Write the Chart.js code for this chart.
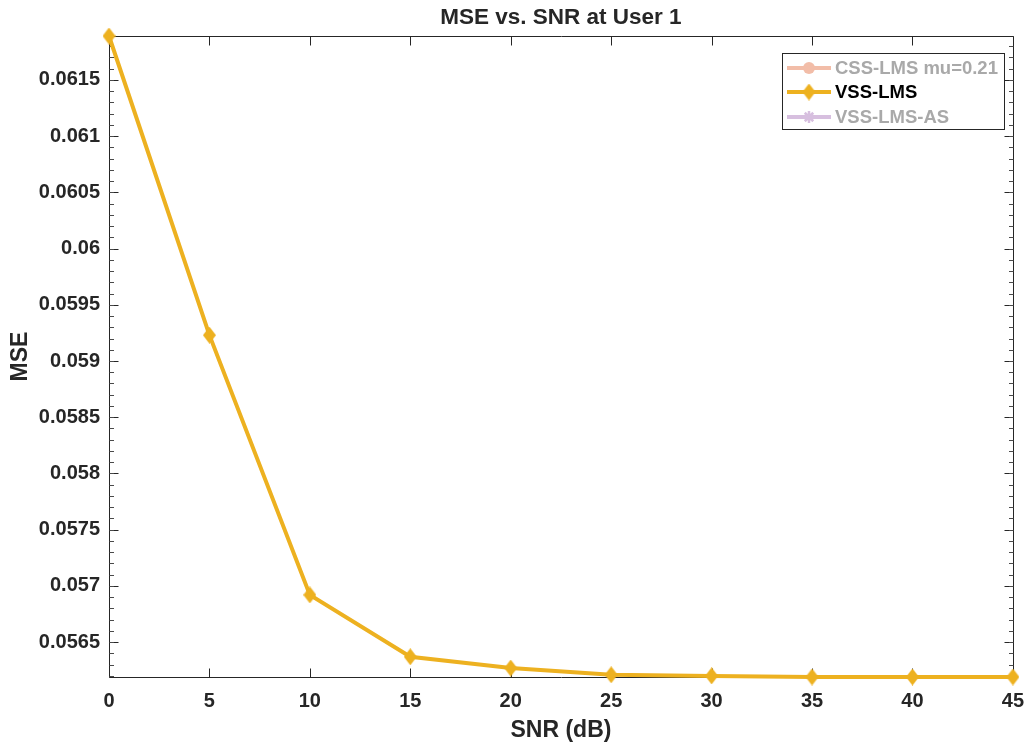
<!DOCTYPE html>
<html>
<head>
<meta charset="utf-8">
<script src="https://cdn.jsdelivr.net/npm/chart.js@4.4.0/dist/chart.umd.min.js"></script>
<style>
  html, body { margin: 0; padding: 0; background: #ffffff; }
  canvas { display: block; }
</style>
</head>
<body>
<canvas id="chart" width="1036" height="747"></canvas>
<script>
// SNR sweep (dB) and the measured MSE of the variable step-size LMS at user 1
const snrDb = [0, 5, 10, 15, 20, 25, 30, 35, 40, 45];
const mseVssLms = [0.06189, 0.05923, 0.05692, 0.05637, 0.05627, 0.05621, 0.05620, 0.05619, 0.05619, 0.05619];

// Axis tick positions and their printed labels
const xTicks = [0, 5, 10, 15, 20, 25, 30, 35, 40, 45];
const yTicks = [0.0565, 0.057, 0.0575, 0.058, 0.0585, 0.059, 0.0595, 0.06, 0.0605, 0.061, 0.0615];
const yTickLabels = ['0.0565', '0.057', '0.0575', '0.058', '0.0585', '0.059', '0.0595', '0.06', '0.0605', '0.061', '0.0615'];

// Legend entries (the two other algorithms are switched off in this view)
const legendNames = ['CSS-LMS mu=0.21', 'VSS-LMS', 'VSS-LMS-AS'];

const FONT = "'Liberation Sans', Arial, Helvetica, sans-serif";
const INK = '#262626';
const GOLD = '#EDB120';

// Tall diamond marker, like the MATLAB 'd' marker
function diamondMarker(w, h, color) {
  const c = document.createElement('canvas');
  c.width = w; c.height = h;
  const g = c.getContext('2d');
  g.fillStyle = color;
  g.beginPath();
  g.moveTo(w / 2, 0);
  g.lineTo(w, h / 2);
  g.lineTo(w / 2, h);
  g.lineTo(0, h / 2);
  g.closePath();
  g.fill();
  return c;
}
const diamond = diamondMarker(13, 17, GOLD);

// Minor y ticks every 0.0001 inside the axis range
function minorTicks(lo, hi, step) {
  const out = [];
  const start = Math.ceil(lo / step - 1e-9);
  const end = Math.floor(hi / step + 1e-9);
  for (let k = start; k <= end; k++) out.push(k * step);
  return out;
}

// Box axes with inward tick marks on all four sides
const axesBox = {
  id: 'axesBox',
  beforeDatasetsDraw(chart) {
    const { ctx, chartArea: a, scales: { x, y } } = chart;
    const L = Math.round(a.left) + 0.5, R = Math.round(a.right) + 0.5;
    const T = Math.round(a.top) + 0.5, B = Math.round(a.bottom) + 0.5;
    ctx.save();
    ctx.strokeStyle = INK;
    ctx.lineWidth = 1;
    ctx.beginPath();
    ctx.moveTo(L, T); ctx.lineTo(R, T); ctx.lineTo(R, B); ctx.lineTo(L, B); ctx.closePath();
    // x major ticks
    xTicks.forEach(v => {
      const px = Math.round(x.getPixelForValue(v)) + 0.5;
      ctx.moveTo(px, B); ctx.lineTo(px, B - 9);
      ctx.moveTo(px, T); ctx.lineTo(px, T + 9);
    });
    // y major ticks
    yTicks.forEach(v => {
      const py = Math.round(y.getPixelForValue(v)) + 0.5;
      ctx.moveTo(L, py); ctx.lineTo(L + 9, py);
      ctx.moveTo(R, py); ctx.lineTo(R - 9, py);
    });
    ctx.stroke();
    // y minor ticks
    ctx.beginPath();
    ctx.strokeStyle = '#4a4a4a';
    minorTicks(y.min, y.max, 0.0001).forEach(v => {
      const py = Math.round(y.getPixelForValue(v)) + 0.5;
      ctx.moveTo(L, py); ctx.lineTo(L + 4.5, py);
      ctx.moveTo(R, py); ctx.lineTo(R - 4.5, py);
    });
    ctx.stroke();
    ctx.restore();
  },
  afterDraw(chart) {
    const { ctx, chartArea: a } = chart;
    ctx.save();
    // Title centred over the axes
    ctx.fillStyle = INK;
    ctx.font = `bold 22.5px ${FONT}`;
    ctx.textAlign = 'center';
    ctx.textBaseline = 'middle';
    ctx.fillText('MSE vs. SNR at User 1', (a.left + a.right) / 2, 18);

    // Legend box
    const bx = 782.5, by = 53.5, bw = 222, bh = 76;
    ctx.fillStyle = '#ffffff';
    ctx.fillRect(bx, by, bw, bh);
    ctx.strokeStyle = INK;
    ctx.lineWidth = 1;
    ctx.strokeRect(bx, by, bw, bh);

    const rows = [68, 92, 117];
    const styles = [
      { line: '#F2BDA8', text: '#A9A9A9', marker: 'circle' },
      { line: GOLD, text: '#000000', marker: 'diamond' },
      { line: '#D7BFDF', text: '#A9A9A9', marker: 'star' }
    ];
    const x0 = 787, x1 = 831, xm = 809;
    legendNames.forEach((name, i) => {
      const yy = rows[i], st = styles[i];
      ctx.strokeStyle = st.line;
      ctx.lineWidth = 4;
      ctx.beginPath();
      ctx.moveTo(x0, yy); ctx.lineTo(x1, yy);
      ctx.stroke();
      ctx.fillStyle = st.line;
      if (st.marker === 'circle') {
        ctx.beginPath();
        ctx.arc(xm, yy, 6, 0, Math.PI * 2);
        ctx.fill();
      } else if (st.marker === 'diamond') {
        ctx.drawImage(diamond, xm - 6.5, yy - 8.5);
      } else {
        ctx.lineWidth = 2.5;
        ctx.beginPath();
        for (let k = 0; k < 4; k++) {
          const ang = k * Math.PI / 4;
          ctx.moveTo(xm - 6 * Math.cos(ang), yy - 6 * Math.sin(ang));
          ctx.lineTo(xm + 6 * Math.cos(ang), yy + 6 * Math.sin(ang));
        }
        ctx.stroke();
      }
      ctx.fillStyle = st.text;
      ctx.font = `bold 18.5px ${FONT}`;
      ctx.textAlign = 'left';
      ctx.textBaseline = 'middle';
      ctx.fillText(name, 835, yy + 1);
    });
    ctx.restore();
  }
};

const yMin = Math.min(...mseVssLms);
const yMax = Math.max(...mseVssLms);

new Chart(document.getElementById('chart'), {
  type: 'line',
  data: {
    datasets: [{
      label: legendNames[1],
      data: snrDb.map((s, i) => ({ x: s, y: mseVssLms[i] })),
      borderColor: GOLD,
      backgroundColor: GOLD,
      borderWidth: 4,
      pointStyle: diamond,
      pointRadius: 8,
      tension: 0,
      clip: false
    }]
  },
  options: {
    responsive: false,
    animation: false,
    devicePixelRatio: 1,
    layout: { padding: { top: 36, right: 16, left: 0, bottom: 0 } },
    plugins: {
      legend: { display: false },
      title: { display: false },
      tooltip: { enabled: false }
    },
    scales: {
      x: {
        type: 'linear',
        min: 0,
        max: 45,
        afterBuildTicks: s => { s.ticks = xTicks.map(v => ({ value: v })); },
        afterFit: s => { s.height = 70; },
        grid: { display: false, drawTicks: false },
        border: { display: false },
        ticks: {
          color: INK,
          font: { family: FONT, size: 20, weight: 'bold' },
          padding: 12,
          maxRotation: 0,
          autoSkip: false
        },
        title: {
          display: true,
          text: 'SNR (dB)',
          color: INK,
          font: { family: FONT, size: 23, weight: 'bold' },
          padding: { top: 0, bottom: 3 }
        }
      },
      y: {
        type: 'linear',
        min: yMin,
        max: yMax,
        afterBuildTicks: s => { s.ticks = yTicks.map(v => ({ value: v })); },
        afterFit: s => { s.width = 109; },
        grid: { display: false, drawTicks: false },
        border: { display: false },
        ticks: {
          color: INK,
          font: { family: FONT, size: 20, weight: 'bold' },
          padding: 9,
          autoSkip: false,
          callback: (v, i) => yTickLabels[i]
        },
        title: {
          display: true,
          text: 'MSE',
          color: INK,
          font: { family: FONT, size: 23, weight: 'bold' },
          padding: { top: 7, bottom: 0 }
        }
      }
    }
  },
  plugins: [axesBox]
});
</script>
</body>
</html>
